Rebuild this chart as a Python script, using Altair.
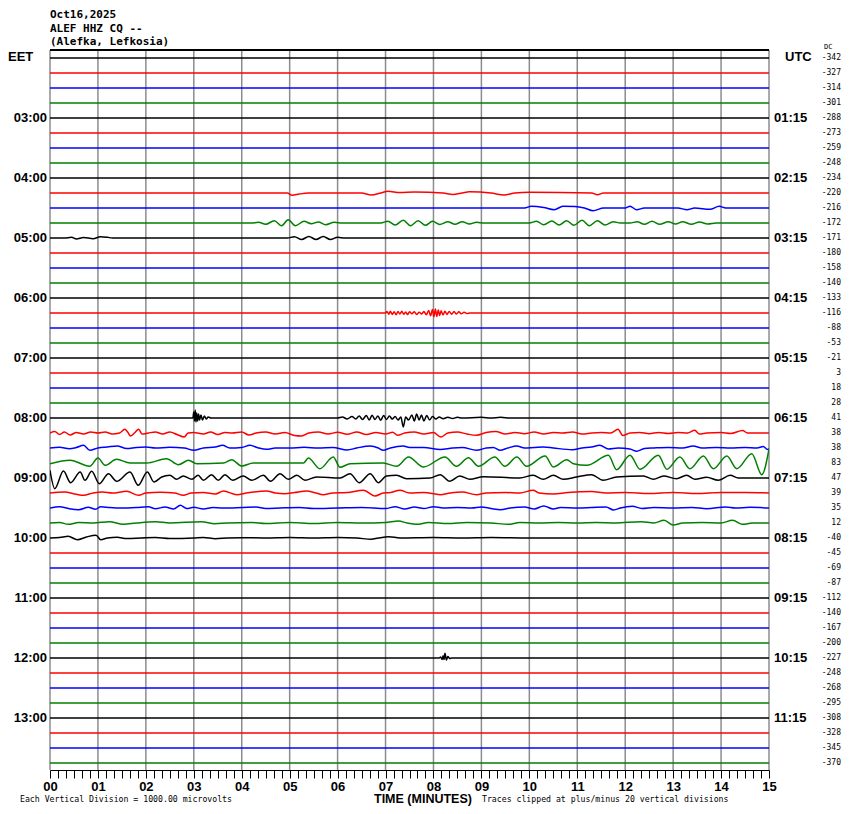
import altair as alt
import pandas as pd

# ---------------- text content ----------------
title_lines = ["Oct16,2025", "ALEF HHZ CQ --", "(Alefka, Lefkosia)"]
eet_labels = ["03:00", "04:00", "05:00", "06:00", "07:00", "08:00",
              "09:00", "10:00", "11:00", "12:00", "13:00"]
utc_labels = ["01:15", "02:15", "03:15", "04:15", "05:15", "06:15",
              "07:15", "08:15", "09:15", "10:15", "11:15"]
dc_values = [-342, -327, -314, -301, -288, -273, -259, -248, -234, -220, -216, -172,
             -171, -180, -158, -140, -133, -116, -88, -53, -21, 3, 18, 28,
             41, 38, 38, 83, 47, 39, 35, 12, -40, -45, -69, -87,
             -112, -140, -167, -200, -227, -248, -268, -295, -308, -328, -345, -370]
minutes = list(range(16))
minor_ticks = [round(k / 6, 4) for k in range(91)]
trace_colors = ["#000000", "#ff0000", "#0000ff", "#008000"]
N_TRACES = 48

# ---------------- trace samples: (minute, amplitude) ----------------
quiet = [(0, 0), (15, 0)]

trace_0415 = [(0, 0), (4.95, 0), (5.05, -2.3), (5.2, -1), (5.4, 0), (6.5, 0), (6.7, -2), (6.9, 0),
              (7.05, 1.7), (7.3, 0.5), (7.6, 1), (8.2, 0), (8.4, -1.5), (8.6, 0), (8.75, 1.2),
              (9.2, 0), (9.47, -2), (9.7, 0), (10.0, 0.7), (11.3, 0), (11.42, -1.7), (11.55, 0), (15, 0)]

trace_0430 = [(0, 0), (9.9, 0), (10.04, 1.7), (10.3, 0.5), (10.52, -1.7), (10.7, 1.7), (10.95, 1.5),
              (11.15, 0), (11.33, -2.7), (11.55, 0), (12.0, 0), (12.1, 1.7), (12.24, -1.7), (12.4, 0),
              (13.1, 0), (13.29, -1.7), (13.45, 0), (13.77, -1.3), (13.96, 1.7), (14.1, 0), (15, 0)]

trace_0445 = [(0, 0), (4.2, 0), (4.35, 0.7), (4.5, -1.3), (4.68, 2.3), (4.83, -2.7), (4.97, 3.3),
              (5.12, -2.7), (5.3, 1.7), (5.45, -0.7), (5.6, 1), (5.75, -1.7), (5.93, 0.7), (6.1, 0),
              (6.9, 0), (7.05, 1.7), (7.2, -2), (7.37, 2.7), (7.52, -2.7), (7.68, 2.3), (7.83, -2.3),
              (7.98, 1.7), (8.13, -1.5), (8.3, 1.3), (8.45, -1.3), (8.6, 1.3), (8.75, -1), (8.9, 0.7),
              (9.05, 0), (10.0, 0), (10.15, 1.7), (10.3, -1.7), (10.47, 2), (10.62, -2), (10.78, 2.3),
              (10.93, -2.3), (11.1, 2.7), (11.25, -2.7), (11.42, 2.3), (11.58, -2), (11.75, 1.3),
              (11.9, 0), (12.1, 0), (12.25, 1.3), (12.4, -1.3), (12.56, 1.7), (12.72, -1.3), (12.9, 1.3),
              (13.05, -1), (13.2, 1.3), (13.38, -1.3), (13.55, 1), (13.72, -1), (13.9, 0), (15, 0)]

trace_0500 = [(0, 0), (0.3, 0), (0.45, 0.7), (0.55, -1), (0.7, 0.5), (0.9, -0.7), (1.05, 1.3), (1.2, 0.7),
              (1.3, 0), (4.95, 0), (5.1, 1.3), (5.25, -1.5), (5.4, 1.5), (5.55, -1.5), (5.7, 1.5),
              (5.85, -1.5), (6.0, 0.7), (6.15, 0), (15, 0)]

trace_0615 = [(0, 0), (7.0, 0), (7.03, 1.5), (7.07, -1.2), (7.1, 1.8), (7.14, -1.5), (7.18, 1.2), (7.22, -1.8),
              (7.26, 1.5), (7.3, -1), (7.34, 1.7), (7.38, -1.3), (7.42, 1), (7.46, -1.6), (7.5, 1.3),
              (7.55, -0.8), (7.6, 1.2), (7.65, -1.5), (7.7, 0.8), (7.75, -1), (7.8, 1.5), (7.85, -1.8),
              (7.9, 2.5), (7.94, -2.8), (7.98, 3.5), (8.01, -3.8), (8.04, 4), (8.07, -3.5), (8.1, 3),
              (8.13, -2.5), (8.16, 2.2), (8.2, -2), (8.24, 1.8), (8.28, -1.5), (8.33, 1.6), (8.38, -1.2),
              (8.43, 1.4), (8.48, -1), (8.53, 1.2), (8.58, -0.8), (8.64, 0.8), (8.7, -0.5), (8.76, 0), (15, 0)]

trace_0800 = [(0, 0), (2.98, 0), (3.0, 6), (3.015, -3), (3.03, 8), (3.045, -4), (3.06, 5), (3.08, -3),
              (3.1, 4), (3.12, -2), (3.15, 3), (3.18, -2), (3.22, 2), (3.26, -1), (3.3, 1), (3.36, 0),
              (6.0, 0), (6.1, 1), (6.2, -1), (6.3, 1.5), (6.38, -1), (6.45, 2), (6.52, -1.5), (6.6, 2.5),
              (6.66, -2), (6.72, 2.7), (6.78, -1.5), (6.84, 2), (6.9, -2.3), (6.96, 2.5), (7.02, -1.5),
              (7.08, 2), (7.14, -1), (7.2, 1.5), (7.26, -2), (7.32, 1), (7.37, -9), (7.42, 1), (7.48, -2),
              (7.55, 3), (7.6, -3), (7.65, 4), (7.7, -2), (7.75, 3), (7.8, -3), (7.86, 2.5), (7.92, -2),
              (7.98, 1.5), (8.05, -1), (8.12, 1), (8.2, -0.7), (8.3, 0.8), (8.4, -0.5), (8.5, 0.7),
              (8.6, 0), (9.0, 0.7), (9.2, 0), (9.4, 0.7), (9.6, 0), (15, 0)]

trace_0815 = [(0, 0), (0.1, 1.5), (0.2, -1.5), (0.3, 1), (0.42, -2), (0.55, 0.5), (0.7, -1), (0.85, 1),
              (1.0, 0), (1.15, 1), (1.3, -1), (1.45, 0), (1.56, 3.7), (1.62, 1), (1.68, -3), (1.76, 0),
              (1.85, 3.7), (1.92, -1), (2.05, 0), (2.2, 1), (2.35, -1), (2.5, 1), (2.65, -1.5), (2.8, -4),
              (2.88, 0), (3.0, 0.5), (3.2, -1), (3.35, 1), (3.5, -1.5), (3.65, 0.5), (3.8, 0), (4.0, 1),
              (4.15, -2), (4.3, 0), (4.5, 1), (4.7, -1), (4.9, 0.5), (5.1, -2.5), (5.25, -3), (5.4, 0),
              (5.6, 1), (5.8, -1), (6.0, 0.7), (6.2, -1.3), (6.4, 1), (6.6, -1.5), (6.8, 0.5), (7.0, -1),
              (7.15, 0.7), (7.25, -2.3), (7.4, 0), (7.6, 1), (7.8, -1), (8.0, 0.5), (8.15, -4), (8.3, 0),
              (8.5, 1), (8.7, -1), (8.9, -2.3), (9.1, 0.5), (9.3, 1.5), (9.5, -1), (9.7, 0.5), (9.9, -0.7),
              (10.1, 1), (10.3, -1), (10.5, 0.5), (10.7, 0), (10.9, 1), (11.1, -1), (11.3, 0), (11.5, 0.5),
              (11.7, 0), (11.85, 3.7), (11.95, -2.5), (12.1, 0), (12.3, 0.5), (12.5, -0.7), (12.7, 0.5),
              (12.9, -0.5), (13.1, 0.5), (13.3, 0), (13.45, 2.7), (13.55, -1), (13.7, 0), (14.0, 0.5),
              (14.2, -0.5), (14.45, 2.5), (14.55, 0), (15, 0)]

trace_0830 = [(0, 0), (0.2, 0.7), (0.4, -0.7), (0.55, 0.5), (0.7, 2.7), (0.83, -2.3), (1.0, 0), (1.2, 1),
              (1.4, 2), (1.6, -0.5), (1.8, 0.5), (2.0, 1), (2.2, 0), (2.5, 0.7), (2.8, 0), (3.0, -2.3),
              (3.2, 0), (3.45, 1), (3.6, 2.7), (3.75, 0), (4.0, 0.5), (4.17, 2.7), (4.35, 0), (4.52, -1.3),
              (4.7, 0), (5.0, 0), (5.3, 0.7), (5.6, 0), (5.9, 0.5), (6.2, -2), (6.4, 0), (6.68, 2),
              (6.85, 0), (6.95, -2.3), (7.1, 0), (7.37, 2), (7.5, 0.5), (7.8, 0.5), (8.14, -1.5), (8.4, 0),
              (8.6, 0.5), (8.9, -2.3), (9.1, 0), (9.25, 0.5), (9.39, -2.3), (9.55, 0), (9.74, 2), (9.9, 0),
              (10.1, 0.5), (10.3, 1), (10.5, 0), (10.9, -1.7), (11.1, 0), (11.3, 1), (11.47, 2.7),
              (11.65, -1), (11.85, 0), (12.1, -1), (12.24, -3.3), (12.4, -0.5), (12.6, 0), (12.9, 0.5),
              (13.2, 0), (13.42, 2), (13.6, 0), (13.9, 0.5), (14.2, 0), (14.5, 0.5), (14.75, 0),
              (14.88, 1.5), (14.97, -1.5), (15, -1)]

trace_0845 = [(0, -0.7), (0.42, 2.7), (0.83, -3.3), (1.0, 5), (1.15, -2.3), (1.39, 3.7), (1.67, 0),
              (2.02, 0), (2.43, 4.3), (2.68, -1.7), (2.89, 2.7), (3.06, -0.7), (3.62, 0), (3.79, 3.3),
              (4.0, -3), (4.24, 0), (5.29, 0), (5.39, 5), (5.63, -5.7), (5.91, 6), (6.05, -4.3),
              (6.26, -0.7), (6.95, 0), (7.23, -3.3), (7.48, 6), (7.79, -4), (8.24, 6), (8.48, -3.3),
              (8.73, 5.3), (8.94, -3.3), (9.28, 6), (9.49, -3.3), (9.74, 6), (9.94, -3.3), (10.33, 7),
              (10.5, -4), (10.78, 3.3), (10.92, -0.7), (11.2, -2.3), (11.65, 7.7), (11.82, -6.7),
              (12.1, 7.7), (12.31, -6.3), (12.69, 7.7), (12.87, -6.3), (13.14, 6), (13.35, -5.7),
              (13.63, 7), (13.84, -5.7), (14.12, 7), (14.33, -5.7), (14.64, 9.3), (14.85, -11.7), (15.0, 14)]

trace_0900 = [(0, 7.7), (0.1, -10.7), (0.28, 7), (0.43, -4.7), (0.63, 6), (0.73, -2.3), (0.87, 6.7),
              (1.03, -5.7), (1.22, 4.3), (1.39, -3.3), (1.67, 6), (1.84, -7.3), (2.03, 6), (2.17, -4),
              (2.33, 1), (2.5, 2.7), (2.64, -1.3), (2.78, 2), (2.96, -1.3), (3.09, 2.7), (3.2, -2.3),
              (3.37, 3.3), (3.51, -2.3), (3.65, 3.3), (3.81, -2.3), (4.03, 2), (4.21, -2.3), (4.45, 2.7),
              (4.6, -3.3), (4.8, 4.3), (4.97, -1.3), (5.15, 2.7), (5.32, -2.3), (5.56, 1), (6.05, 0),
              (6.26, 4.3), (6.45, -4.7), (6.68, 4.3), (6.85, -4.7), (7.02, 2), (7.23, 2.7), (7.44, -0.7),
              (7.93, 0), (8.14, 3.3), (8.34, -3.3), (8.55, 2), (8.76, -1.3), (9.04, 1.3), (9.8, 0),
              (10.08, 2.7), (10.29, -1.3), (10.5, 2.7), (10.71, -1.3), (10.99, 1), (11.3, 3.3),
              (11.54, -2.3), (11.82, 1), (12.38, 2), (12.59, -1.3), (12.8, 2), (13.07, -0.7), (13.28, 2.7),
              (13.46, -1.3), (13.7, 0.7), (13.94, -2.3), (14.19, 2.7), (14.36, 0), (15, 0)]

trace_0915 = [(0, 0), (0.3, 1), (0.55, -1.3), (0.7, -2.3), (0.9, 0), (1.1, 1), (1.3, 0), (1.6, 1.7),
              (1.85, -2.3), (2.0, 0), (2.3, 0.7), (2.6, 0), (2.78, -2.3), (2.95, 0), (3.2, 0.5), (3.45, -1),
              (3.62, 2), (3.9, -1.7), (4.1, 0), (4.52, 2), (4.7, 0), (4.9, -0.7), (5.1, 0.5), (5.35, 2),
              (5.55, 0), (5.7, -1.7), (5.9, 0), (6.2, 0.5), (6.54, 2.7), (6.78, -3), (6.95, 0), (7.1, 0.5),
              (7.3, 2.7), (7.5, 0), (7.8, 0.5), (8.14, -1.7), (8.35, 0), (8.6, 1), (8.9, -1.7), (9.1, 0),
              (9.5, 0.5), (9.8, 0), (10.08, 2.7), (10.2, 0), (10.5, -1), (10.8, 0.5), (11.3, 1.5),
              (11.6, 0), (12.0, 0.5), (12.5, -0.5), (13.0, 0.5), (13.5, -0.5), (14.0, 0.5), (14.5, 0.5), (15, 0)]

trace_0930 = [(0, 0), (0.2, 1.3), (0.4, -0.7), (0.6, -1.7), (0.8, 0.7), (0.95, -1.3), (1.06, 1.3),
              (1.25, 0.5), (1.5, 0), (1.8, 0.5), (2.05, 1.3), (2.2, -0.7), (2.4, 1), (2.58, -1), (2.72, 2.7),
              (2.85, -0.5), (3.0, 0.7), (3.2, -1), (3.4, 0.5), (3.6, 0), (4.0, 0.5), (4.3, 1), (4.5, -0.5),
              (4.8, 0), (5.2, 0.5), (5.5, -0.5), (6.0, 0), (6.5, 0.5), (7.0, -0.5), (7.2, 1.3), (7.4, -1),
              (7.6, 1), (7.8, -0.5), (8.0, 1.3), (8.2, 0), (8.5, 0.5), (8.8, 0), (9.0, 1), (9.2, -0.5),
              (9.4, -1.7), (9.6, 0), (9.9, 1), (10.1, -1), (10.3, 2), (10.5, -1), (10.65, 0.5), (11.0, 0),
              (11.3, 0.5), (11.6, 1), (11.76, -2), (11.9, 0), (12.15, 1.7), (12.35, -0.5), (12.6, 0.5),
              (13.0, 0), (13.4, 0.5), (13.7, -0.7), (14.1, 1), (14.3, 0), (14.6, 0.7), (15, 0)]

trace_0945 = [(0, 0), (0.2, 0.5), (0.38, -1.3), (0.6, 0.5), (0.9, 0), (1.24, 1.3), (1.53, -1.3), (1.8, 0),
              (2.2, 1.3), (2.5, 0), (3.16, 1.3), (3.44, -0.7), (3.7, 0), (4.2, 0.5), (4.5, -0.5), (5.0, 0.5),
              (5.5, -0.5), (6.0, 0.5), (6.5, 0), (7.0, 0.5), (7.27, 2), (7.45, 0), (7.65, -1.3), (7.9, 0.5),
              (8.3, -0.5), (8.7, 0.5), (9.2, 0), (9.56, -1.3), (9.8, 0.5), (10.2, 0), (10.6, 0.5), (11.0, 0),
              (11.4, 0.5), (11.8, 0), (12.33, 1.3), (12.6, 0), (12.81, 2.7), (13.0, -2), (13.2, 0),
              (13.6, 0.5), (14.0, 0), (14.24, 2.7), (14.45, -1.3), (14.65, 0), (15, 0)]

trace_1000 = [(0, 0), (0.2, 0.5), (0.38, 1.7), (0.57, -1.7), (0.76, 1), (0.96, 2.7), (1.06, -1.7), (1.2, 0),
              (1.4, 0.7), (1.6, -0.5), (1.9, 0), (2.2, 0.5), (2.5, -0.5), (3.0, 0), (3.2, 0.5), (3.45, -0.7),
              (3.7, 0), (4.0, 0.3), (4.5, 0), (5.0, 0.5), (5.5, 0), (6.0, 0.5), (6.4, 0), (6.7, -1.3),
              (6.85, 0), (7.07, 1.3), (7.3, 0), (8.0, 0.5), (8.6, 0), (9.2, 0.5), (10.0, 0), (15, 0)]

trace_1200 = [(0, 0), (8.12, 0), (8.15, 1), (8.18, -1.5), (8.2, 2.3), (8.22, -1.5), (8.24, 4.7),
              (8.27, -2), (8.3, 1.5), (8.34, -0.5), (8.38, 0), (15, 0)]

active = {9: trace_0415, 10: trace_0430, 11: trace_0445, 12: trace_0500, 17: trace_0615,
          24: trace_0800, 25: trace_0815, 26: trace_0830, 27: trace_0845, 28: trace_0900,
          29: trace_0915, 30: trace_0930, 31: trace_0945, 32: trace_1000, 40: trace_1200}

PX_PER_TRACE = 15.0

rows = []
for i in range(N_TRACES):
    for t, a in active.get(i, quiet):
        rows.append({"trace": i, "t": t, "y": i - a / PX_PER_TRACE, "color": trace_colors[i % 4]})
traces_df = pd.DataFrame(rows)

W, H = 719, 720
x_scale = alt.Scale(domain=[0, 15], nice=False, zero=False)
y_scale = alt.Scale(domain=[-8 / 15, N_TRACES - 8 / 15], nice=False, zero=False, reverse=True)

label_expr = ("abs(datum.value - round(datum.value)) < 0.001 ? "
              "(round(datum.value) < 10 ? '0' + round(datum.value) : '' + round(datum.value)) : ''")
x_axis = alt.Axis(values=minor_ticks, labelExpr=label_expr, tickSize=8, tickColor="black",
                  domainColor="black", tickWidth=1, domainWidth=1, grid=False, title=None,
                  labelFont="Liberation Sans", labelFontWeight="bold", labelFontSize=13,
                  labelColor="black", labelPadding=2, labelOverlap=False, labelFlush=False,
                  labelBound=False)

grid = alt.Chart(pd.DataFrame({"m": minutes})).mark_rule(color="#8c8c8c", strokeWidth=1.5).encode(
    x=alt.X("m:Q", scale=x_scale, axis=x_axis)
)

top_border = alt.Chart(pd.DataFrame({"k": [0]})).mark_rule(color="black", strokeWidth=2).encode(
    y=alt.value(0)
)

lines = alt.Chart(traces_df).mark_line(strokeWidth=1.5, interpolate="monotone", clip=True).encode(
    x=alt.X("t:Q", scale=x_scale, axis=x_axis),
    y=alt.Y("y:Q", scale=y_scale, axis=None),
    detail="trace:N",
    color=alt.Color("color:N", scale=None),
)

eet_df = pd.DataFrame({"lab": eet_labels, "tr": [4 * (k + 1) for k in range(len(eet_labels))]})
utc_df = pd.DataFrame({"lab": utc_labels, "tr": [4 * (k + 1) for k in range(len(utc_labels))]})
dc_df = pd.DataFrame({"lab": [str(v) for v in dc_values], "tr": list(range(N_TRACES))})

bold = dict(font="Liberation Sans", fontWeight="bold", fontSize=13, color="black", baseline="middle")

eet_text = alt.Chart(eet_df).mark_text(align="right", **bold).encode(
    x=alt.value(-3), y=alt.Y("tr:Q", scale=y_scale, axis=None), text="lab:N")
utc_text = alt.Chart(utc_df).mark_text(align="left", **bold).encode(
    x=alt.value(W + 5), y=alt.Y("tr:Q", scale=y_scale, axis=None), text="lab:N")
dc_text = alt.Chart(dc_df).mark_text(align="right", font="DejaVu Sans Mono", fontSize=8,
                                     color="black", baseline="middle").encode(
    x=alt.value(W + 72), y=alt.Y("tr:Q", scale=y_scale, axis=None), text="lab:N")

hdr_df = pd.DataFrame({"lab": ["EET", "UTC"], "px": [-42, W + 16]})
hdr_text = alt.Chart(hdr_df).mark_text(align="left", **bold).encode(
    x=alt.X("px:Q", scale=None), y=alt.value(7), text="lab:N")
dc_head = alt.Chart(pd.DataFrame({"lab": ["DC"]})).mark_text(
    align="left", font="DejaVu Sans Mono", fontSize=7, color="black", baseline="middle").encode(
    x=alt.value(W + 55), y=alt.value(-3), text="lab:N")

title_df = pd.DataFrame({"lab": title_lines, "py": [-35, -21.5, -8]})
title_text = alt.Chart(title_df).mark_text(align="left", font="DejaVu Sans Mono", fontWeight="bold",
                                           fontSize=11, color="black", baseline="middle").encode(
    x=alt.value(0), y=alt.Y("py:Q", scale=None), text="lab:N")

foot_df = pd.DataFrame({
    "lab": ["Each Vertical Division = 1000.00 microvolts",
            "Traces clipped at plus/minus 20 vertical divisions"],
    "px": [-30, 432]})
foot_text = alt.Chart(foot_df).mark_text(align="left", font="DejaVu Sans Mono", fontSize=8.2,
                                         color="black", baseline="middle").encode(
    x=alt.X("px:Q", scale=None), y=alt.value(H + 30), text="lab:N")
time_title = alt.Chart(pd.DataFrame({"lab": ["TIME (MINUTES)"]})).mark_text(
    align="left", font="Liberation Sans", fontWeight="bold", fontSize=12.5, color="black",
    baseline="middle").encode(x=alt.value(324), y=alt.value(H + 29), text="lab:N")

chart = alt.layer(
    grid, top_border, lines, eet_text, utc_text, dc_text, hdr_text, dc_head,
    title_text, foot_text, time_title
).properties(
    width=W, height=H,
    padding={"left": 42, "top": 42, "right": 73, "bottom": 36},
    autosize=alt.AutoSizeParams(type="none"),
    background="white",
).configure_view(stroke=None)

chart.save("out.html", embed_options={"renderer": "svg", "actions": False})
